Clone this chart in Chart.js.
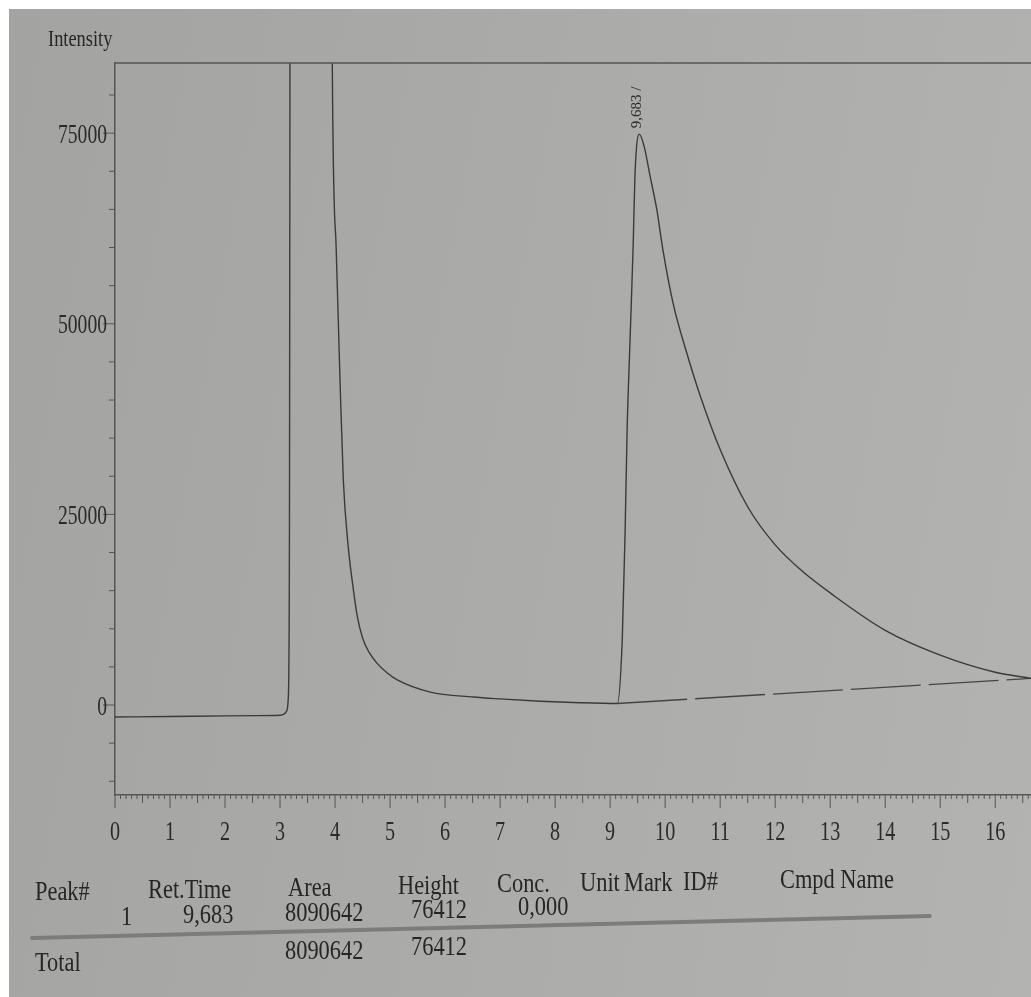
<!DOCTYPE html>
<html>
<head>
<meta charset="utf-8">
<script src="https://cdn.jsdelivr.net/npm/chart.js@4.4.1/dist/chart.umd.min.js"></script>
<style>
  html, body { margin: 0; padding: 0; background: #fff; }
  #page { position: relative; width: 1031px; height: 997px; overflow: hidden; }
  #paper { position: absolute; left: 9px; top: 9px; right: 0; bottom: 0;
           background: linear-gradient(100deg, #a3a4a2 0%, #abacaa 50%, #b3b4b2 100%); }
  canvas { position: absolute; left: 0; top: 0; }
  .t { position: absolute; font-family: "Liberation Serif", "Times New Roman", serif; color: #262626;
       white-space: nowrap; line-height: 1; font-size: 28px; transform: scaleX(0.8); transform-origin: 0 0; }
  #rule { position: absolute; left: 30px; top: 936px; width: 902px; height: 4px; background: #7c7d7b;
          transform: rotate(-1.4deg); transform-origin: 0 50%; border-radius: 2px; }
</style>
</head>
<body>
<div id="page">
  <div id="paper"></div>
  <canvas id="chromCanvas" width="1031" height="997"></canvas>

  <div class="t" style="left:48px;top:27px;font-size:23px;">Intensity</div>

  <!-- peak table -->
  <div class="t" style="left:35px;top:877px;">Peak#</div>
  <div class="t" style="left:148px;top:875px;">Ret.Time</div>
  <div class="t" style="left:288px;top:873px;">Area</div>
  <div class="t" style="left:398px;top:871px;">Height</div>
  <div class="t" style="left:497px;top:869px;">Conc.</div>
  <div class="t" style="left:580px;top:868px;">Unit</div>
  <div class="t" style="left:624px;top:868px;">Mark</div>
  <div class="t" style="left:683px;top:867px;">ID#</div>
  <div class="t" style="left:780px;top:865px;">Cmpd Name</div>

  <div class="t" style="left:121px;top:902px;">1</div>
  <div class="t" style="left:183px;top:900px;">9,683</div>
  <div class="t" style="left:285px;top:898px;">8090642</div>
  <div class="t" style="left:411px;top:895px;">76412</div>
  <div class="t" style="left:518px;top:892px;">0,000</div>

  <div id="rule"></div>

  <div class="t" style="left:35px;top:948px;">Total</div>
  <div class="t" style="left:285px;top:936px;">8090642</div>
  <div class="t" style="left:411px;top:932px;">76412</div>
</div>

<script>
// Chromatogram trace (time in min, intensity in counts)
const timeMin = [0, 1, 2, 2.9, 3.0, 3.08, 3.12, 3.15, 3.17, 3.19, 3.93, 3.95, 4.02, 4.09, 4.15, 4.24, 4.31, 4.4,
  4.5, 4.62, 4.76, 4.95, 5.13, 5.73, 6.51, 7.0, 7.73, 8.45, 9.13, 9.22, 9.27, 9.31, 9.36, 9.42, 9.45, 9.53, 9.62,
  9.73, 9.85, 9.96, 10.15, 10.4, 10.64, 11.0, 11.5, 12.0, 12.5, 13.0, 14.0, 15.0, 16.0, 16.65];
const intensity = [-1570, -1500, -1420, -1370, -1350, -1150, -800, 1000, 20000, 130000, 130000, 84000, 60000,
  42600, 29500, 20700, 16400, 11800, 8800, 6900, 5500, 4200, 3300, 1700, 1050, 800, 500, 300, 200, 8500, 22000,
  36450, 47460, 60570, 69230, 74870, 73200, 69230, 64900, 59660, 52500, 46000, 40500, 33500, 26000, 21000, 17500,
  14700, 9800, 6550, 4300, 3500];

// drawn baseline under the peak
const baseTime = [9.13, 16.65];
const baseIntensity = [200, 3500];

// axes
const xTickLabels = [0, 1, 2, 3, 4, 5, 6, 7, 8, 9, 10, 11, 12, 13, 14, 15, 16];
const yTickLabels = [0, 25000, 50000, 75000];

// peak annotation
const peakTime = 9.53;
const peakHeight = 74870;
const peakLabel = '9,683 /';

const signal = timeMin.map((t, i) => ({ x: t, y: intensity[i] }));
const baseline = baseTime.map((t, i) => ({ x: t, y: baseIntensity[i] }));

const INK = '#2b2b2b';
const SERIF = '"Liberation Serif", "Times New Roman", serif';

// frame line, minor ticks, condensed tick labels and the peak label
const printPlugin = {
  id: 'printPlugin',
  afterDraw(chart) {
    const { ctx, chartArea: a, scales: { x, y } } = chart;
    ctx.save();
    ctx.strokeStyle = '#555';
    ctx.lineWidth = 1.5;
    ctx.beginPath();
    ctx.moveTo(a.left, a.top);
    ctx.lineTo(a.right, a.top);
    ctx.stroke();

    // x ticks every 0.1 min
    ctx.lineWidth = 1;
    for (let i = 0; i <= 166; i++) {
      const px = x.getPixelForValue(i / 10);
      const len = i % 10 === 0 ? 13 : (i % 5 === 0 ? 8 : 4);
      ctx.beginPath();
      ctx.moveTo(px, a.bottom);
      ctx.lineTo(px, a.bottom + len);
      ctx.stroke();
    }
    // y ticks every 5000
    for (let v = -10000; v <= 80000; v += 5000) {
      const py = y.getPixelForValue(v);
      const len = yTickLabels.includes(v) ? 12 : 6;
      ctx.beginPath();
      ctx.moveTo(a.left - len, py);
      ctx.lineTo(a.left, py);
      ctx.stroke();
    }

    ctx.fillStyle = INK;
    ctx.font = '28px ' + SERIF;
    ctx.textBaseline = 'alphabetic';
    xTickLabels.forEach(v => {
      ctx.save();
      ctx.translate(x.getPixelForValue(v), a.bottom + 45);
      ctx.scale(0.72, 1);
      ctx.textAlign = 'center';
      ctx.fillText(String(v), 0, 0);
      ctx.restore();
    });
    yTickLabels.forEach(v => {
      ctx.save();
      ctx.translate(a.left - 8, y.getPixelForValue(v) + 9.5);
      ctx.scale(0.7, 1);
      ctx.textAlign = 'right';
      ctx.fillText(String(v), 0, 0);
      ctx.restore();
    });

    // rotated retention time above the peak
    ctx.save();
    ctx.font = '15px ' + SERIF;
    ctx.translate(x.getPixelForValue(peakTime) - 2, y.getPixelForValue(peakHeight) - 6);
    ctx.rotate(-Math.PI / 2);
    ctx.textAlign = 'left';
    ctx.textBaseline = 'middle';
    ctx.fillText(peakLabel, 0, 0);
    ctx.restore();

    ctx.restore();
  }
};

const chromCtx = document.getElementById('chromCanvas').getContext('2d');
const chromChart = new Chart(chromCtx, {
  type: 'line',
  data: {
    datasets: [{
      data: signal,
      borderColor: '#3a3a3a',
      borderWidth: 1.4,
      pointRadius: 0,
      cubicInterpolationMode: 'monotone',
      fill: false
    }, {
      data: baseline,
      borderColor: '#444',
      borderWidth: 1.3,
      borderDash: [70, 8],
      pointRadius: 0,
      fill: false
    }]
  },
  options: {
    responsive: false,
    animation: false,
    events: [],
    layout: { padding: { left: 0, right: 0, top: 63, bottom: 142 } },
    plugins: { legend: { display: false }, tooltip: { enabled: false } },
    scales: {
      x: {
        type: 'linear', min: 0, max: 16.65,
        ticks: { display: false },
        grid: { display: false },
        border: { display: true, color: '#555', width: 1.5 },
        afterFit(s) { s.height = 60; }
      },
      y: {
        type: 'linear', min: -11800, max: 84200,
        ticks: { display: false },
        grid: { display: false },
        border: { display: true, color: '#555', width: 1.5 },
        afterFit(s) { s.width = 115; }
      }
    }
  },
  plugins: [printPlugin]
});
</script>
</body>
</html>
